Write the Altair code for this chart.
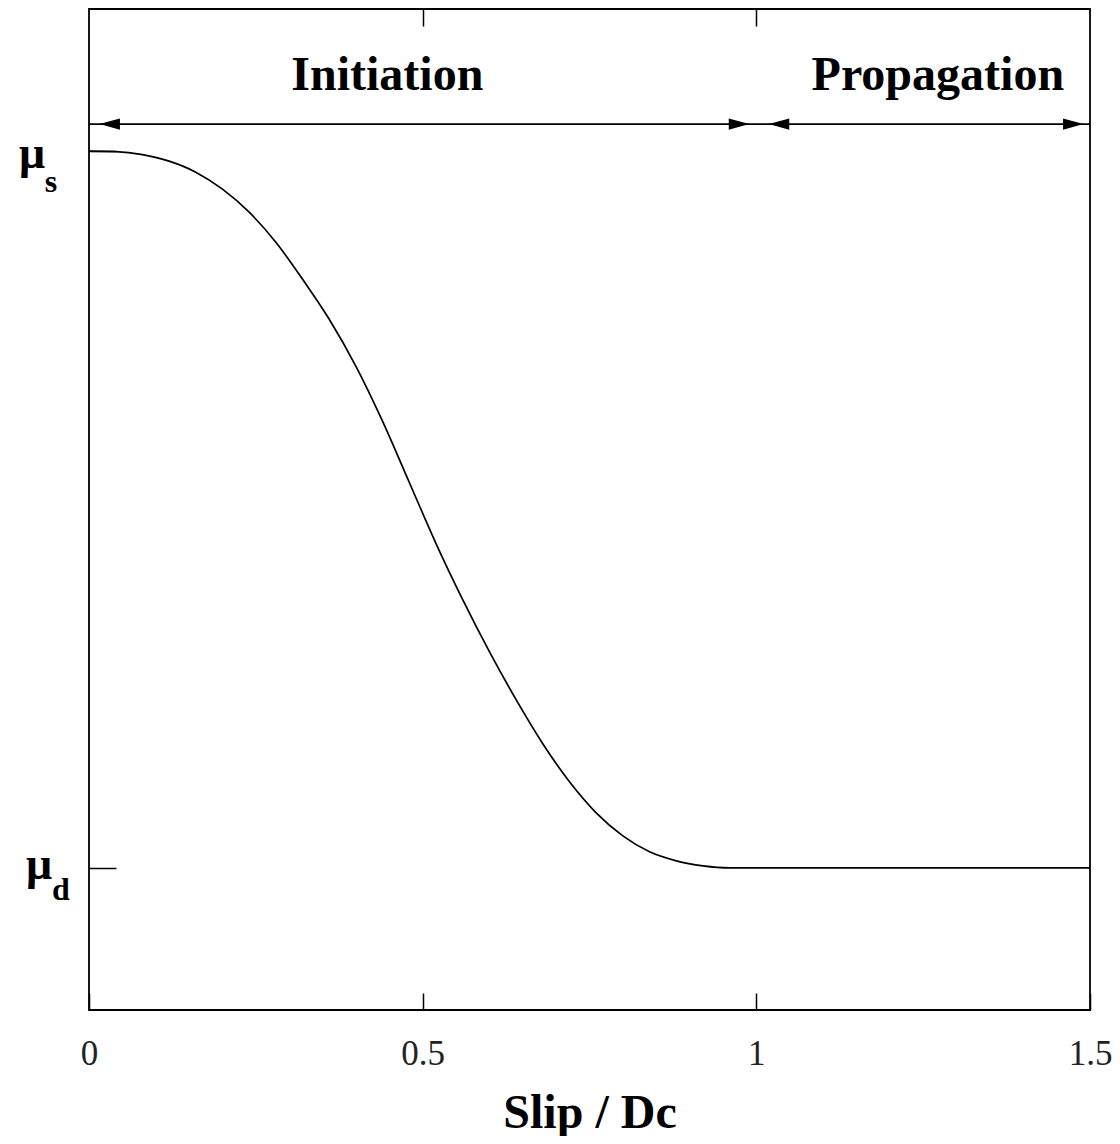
import altair as alt
import pandas as pd

# ---- data ----
MU_S = 0.858
MU_D = 0.142

curve_x = [0.0, 0.04, 0.08, 0.12, 0.16, 0.20, 0.24, 0.28, 0.32, 0.36, 0.40,
           0.44, 0.48, 0.52, 0.56, 0.60, 0.64, 0.68, 0.72, 0.76, 0.80, 0.84,
           0.88, 0.92, 0.96, 1.5]
curve_y = [0.858, 0.8575, 0.8545, 0.848, 0.837, 0.820, 0.797, 0.767, 0.730, 0.690,
           0.643, 0.588, 0.527, 0.466, 0.410, 0.358, 0.310, 0.266, 0.228, 0.197,
           0.174, 0.158, 0.149, 0.144, 0.142, 0.142]

x_ticks = [0, 0.5, 1, 1.5]
inner_ticks = [0.5, 1]

span_start = 0.0
span_end = 1.5
span_y = 0.885
arrow_x = [0.031, 0.974, 1.034, 1.475]
arrow_dir = ["left", "right", "left", "right"]

phase_names = ["Initiation", "Propagation"]
phase_x = [0.447, 1.272]
phase_y = 0.919

FONT = "Liberation Serif"

curve_df = pd.DataFrame({"x": curve_x, "y": curve_y})
arrow_df = pd.DataFrame({"x": arrow_x, "dir": arrow_dir, "y": [span_y] * len(arrow_x)})
span_df = pd.DataFrame({"x": [span_start], "x2": [span_end], "y": [span_y]})
phase_df = pd.DataFrame({"name": phase_names, "x": phase_x, "y": [phase_y] * 2})

xscale = alt.Scale(domain=[0, 1.5], nice=False, zero=False)
yscale = alt.Scale(domain=[0, 1], nice=False, zero=False)

x_axis = alt.Axis(values=x_ticks, format="~g", title="Slip / Dc", grid=False,
                  domain=False, tickSize=17, offset=-17, tickColor="black",
                  tickWidth=1.5, labelFont=FONT, labelFontSize=35,
                  labelColor="#222222", labelPadding=26, labelFlush=False,
                  titleFont=FONT, titleFontSize=48, titleFontWeight="bold",
                  titleColor="black", titlePadding=18)
y_axis = alt.Axis(values=[MU_S, MU_D], labels=False, title=None, grid=False,
                  domain=False, tickSize=27, offset=-27, tickColor="black",
                  tickWidth=1.5)

curve = alt.Chart(curve_df).mark_line(color="black", strokeWidth=1.7,
                                      interpolate="monotone").encode(
    x=alt.X("x:Q", scale=xscale, axis=x_axis),
    y=alt.Y("y:Q", scale=yscale, axis=y_axis),
)

top_ticks = alt.Chart(pd.DataFrame({"x": inner_ticks})).mark_point(opacity=0).encode(
    x=alt.X("x:Q", scale=xscale,
            axis=alt.Axis(orient="top", values=inner_ticks, labels=False, title=None,
                          grid=False, domain=False, tickSize=17, offset=-17,
                          tickColor="black", tickWidth=1.5)),
)

span = alt.Chart(span_df).mark_rule(color="black", strokeWidth=1.7).encode(
    x=alt.X("x:Q", scale=xscale, axis=None), x2="x2:Q",
    y=alt.Y("y:Q", scale=yscale, axis=None)
)

LEFT = "M -1 0 L 1 -0.55 L 1 0.55 Z"
RIGHT = "M 1 0 L -1 -0.55 L -1 0.55 Z"
arrows = alt.Chart(arrow_df).mark_point(filled=True, color="black", size=420, opacity=1).encode(
    x=alt.X("x:Q", scale=xscale, axis=None),
    y=alt.Y("y:Q", scale=yscale, axis=None),
    shape=alt.Shape("dir:N", scale=alt.Scale(domain=["left", "right"], range=[LEFT, RIGHT]),
                    legend=None),
)

phases = alt.Chart(phase_df).mark_text(font=FONT, fontSize=48, fontWeight="bold",
                                       color="black", baseline="alphabetic",
                                       align="center").encode(
    x=alt.X("x:Q", scale=xscale, axis=None),
    y=alt.Y("y:Q", scale=yscale, axis=None), text="name:N"
)

def mu_label(yval, txt, dx, dy, size):
    return alt.Chart(pd.DataFrame({"y": [yval], "t": [txt]})).mark_text(
        font=FONT, fontSize=size, fontWeight="bold", color="black",
        align="center", baseline="middle", dx=dx, dy=dy
    ).encode(x=alt.datum(0, scale=xscale, axis=None),
             y=alt.Y("y:Q", scale=yscale, axis=None), text="t:N")

labels = [
    mu_label(MU_S, "μ", -57, 3, 46),
    mu_label(MU_S, "s", -38, 31, 32),
    mu_label(MU_D, "μ", -50, -3, 46),
    mu_label(MU_D, "d", -28, 22, 32),
]

chart = alt.layer(curve, top_ticks, span, arrows, phases, *labels).resolve_axis(
    x="independent", y="independent"
).properties(
    width=1001, height=1001,
    autosize=alt.AutoSizeParams(type="none"),
    padding={"left": 81, "top": 1, "right": 22, "bottom": 126},
).configure(background="white").configure_view(stroke="black", strokeWidth=1.8)

chart.save("out.html", embed_options={"renderer": "svg", "actions": False})
